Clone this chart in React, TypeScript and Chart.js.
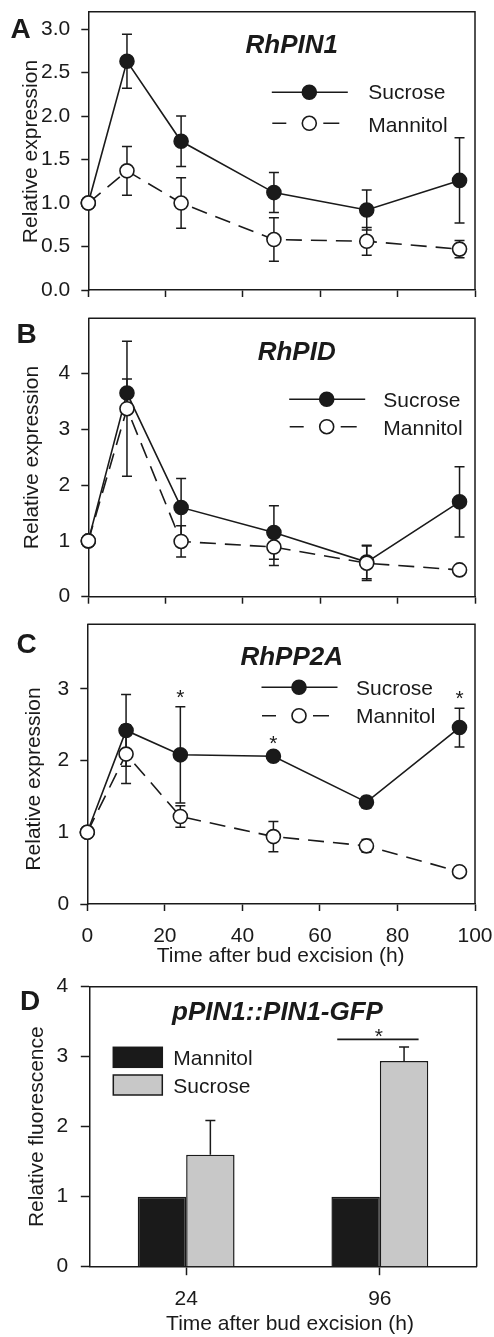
import React, { useEffect, useRef } from 'react';
import { Chart, registerables } from 'chart.js';

Chart.register(...registerables);

const FONT = '"Liberation Sans", Arial, Helvetica, sans-serif';
const INK = '#1a1a1a';
const BAR_GRAY = '#c8c8c8';
const PAGE_W = 494;

// ---------- data ----------
const hours = [0, 10, 24, 48, 72, 96];

const pin1Sucrose = [1.0, 2.63, 1.71, 1.12, 0.92, 1.26];
const pin1SucroseErr = [0, 0.31, 0.29, 0.23, 0.23, 0.49];
const pin1Mannitol = [1.0, 1.37, 1.0, 0.58, 0.56, 0.47];
const pin1MannitolErr = [0, 0.28, 0.29, 0.25, 0.16, 0.1];

const pidSucrose = [1.0, 3.65, 1.6, 1.15, 0.62, 1.7];
const pidSucroseErr = [0, 0.25, 0.52, 0.48, 0.3, 0.63];
const pidMannitol = [1.0, 3.37, 0.99, 0.89, 0.6, 0.48];
const pidMannitolErr = [0, 1.21, 0.28, 0.33, 0.31, 0.05];

const pp2aSucrose = [1.0, 2.42, 2.08, 2.06, 1.42, 2.46];
const pp2aSucroseErr = [0, 0.5, 0.67, 0.05, 0.08, 0.27];
const pp2aMannitol = [1.0, 2.09, 1.22, 0.94, 0.81, 0.45];
const pp2aMannitolErr = [0, 0.41, 0.15, 0.21, 0.09, 0.03];
const pp2aSignificant = [false, false, true, true, false, true];

const gfpCategories = ['24', '96'];
const gfpMannitol = [1, 1];
const gfpMannitolErr = [0, 0];
const gfpSucrose = [1.6, 2.94];
const gfpSucroseErr = [0.49, 0.2];
const gfpSignificant = [false, true];

const seriesNames = ['Sucrose', 'Mannitol'];
const xAxisTitle = 'Time after bud excision (h)';

// ---------- layout (page coordinates) ----------
interface Panel {
  top: number;
  height: number;
  area: { left: number; right: number; top: number; bottom: number };
  letter: string;
  letterX: number;
  letterBase: number;
  title: string;
  titleX: number;
  titleBase: number;
  yTitle: string;
  yTitleX: number;
  yTitleY: number;
  xTitleX?: number;
  xTitleBase?: number;
  legend?: { xc: number; ySuc: number; yMan: number; tx: number; bSuc: number; bMan: number };
}

const panelA: Panel = {
  top: 0, height: 310,
  area: { left: 88.3, right: 475, top: 11.7, bottom: 290 },
  letter: 'A', letterX: 10.5, letterBase: 38,
  title: 'RhPIN1', titleX: 291.7, titleBase: 53,
  yTitle: 'Relative expression', yTitleX: 37, yTitleY: 151.5,
  legend: { xc: 309.3, ySuc: 92.3, yMan: 123.3, tx: 368.3, bSuc: 99.3, bMan: 131.5 },
};
const panelB: Panel = {
  top: 300, height: 310,
  area: { left: 88.3, right: 475, top: 318.3, bottom: 596.7 },
  letter: 'B', letterX: 16.5, letterBase: 343,
  title: 'RhPID', titleX: 296.7, titleBase: 359.5,
  yTitle: 'Relative expression', yTitleX: 38, yTitleY: 457.5,
  legend: { xc: 326.7, ySuc: 399.3, yMan: 426.7, tx: 383.3, bSuc: 406.7, bMan: 434.8 },
};
const panelC: Panel = {
  top: 600, height: 370,
  area: { left: 87.3, right: 475, top: 624.3, bottom: 904 },
  letter: 'C', letterX: 16.5, letterBase: 653,
  title: 'RhPP2A', titleX: 291.7, titleBase: 664.5,
  yTitle: 'Relative expression', yTitleX: 39.5, yTitleY: 779,
  xTitleX: 280.7, xTitleBase: 962,
  legend: { xc: 299, ySuc: 687.3, yMan: 715.7, tx: 356, bSuc: 695, bMan: 723.3 },
};
const panelD: Panel = {
  top: 970, height: 367,
  area: { left: 89.3, right: 476.7, top: 986.7, bottom: 1266.7 },
  letter: 'D', letterX: 20, letterBase: 1009.5,
  title: 'pPIN1::PIN1-GFP', titleX: 277.5, titleBase: 1020,
  yTitle: 'Relative fluorescence', yTitleX: 42.5, yTitleY: 1126.7,
  xTitleX: 290, xTitleBase: 1329.5,
};

// ---------- drawing helpers ----------
function drawErrors(chart: any, upOnly: boolean) {
  const ctx = chart.ctx;
  const ys = chart.scales.y;
  ctx.save();
  ctx.strokeStyle = INK;
  ctx.lineWidth = 1.5;
  chart.data.datasets.forEach((ds: any, i: number) => {
    const errs: number[] | undefined = ds.errors;
    if (!errs) return;
    const meta = chart.getDatasetMeta(i);
    meta.data.forEach((el: any, j: number) => {
      const e = errs[j];
      if (!e) return;
      const v = meta.controller.getParsed(j).y;
      const x = el.x;
      const yTop = ys.getPixelForValue(v + e);
      const yBot = upOnly ? ys.getPixelForValue(v) : ys.getPixelForValue(v - e);
      const cap = 5;
      ctx.beginPath();
      ctx.moveTo(x, yBot);
      ctx.lineTo(x, yTop);
      ctx.moveTo(x - cap, yTop);
      ctx.lineTo(x + cap, yTop);
      if (!upOnly) {
        ctx.moveTo(x - cap, yBot);
        ctx.lineTo(x + cap, yBot);
      }
      ctx.stroke();
    });
  });
  ctx.restore();
}

function makeDecor(p: Panel, kind: 'line' | 'bar', extra?: (chart: any, off: number) => void) {
  return {
    id: 'decor' + p.letter,
    beforeDatasetsDraw(chart: any) {
      if (kind === 'line') drawErrors(chart, false);
    },
    afterDatasetsDraw(chart: any) {
      if (kind === 'bar') drawErrors(chart, true);
    },
    afterDraw(chart: any) {
      const ctx = chart.ctx;
      const a = chart.chartArea;
      const off = p.top;
      ctx.save();
      // frame top + right
      ctx.strokeStyle = INK;
      ctx.lineWidth = 1.5;
      ctx.beginPath();
      ctx.moveTo(a.left, a.top);
      ctx.lineTo(a.right, a.top);
      ctx.lineTo(a.right, a.bottom);
      ctx.stroke();

      ctx.fillStyle = INK;
      ctx.textBaseline = 'alphabetic';
      // panel letter
      ctx.font = `bold 28px ${FONT}`;
      ctx.textAlign = 'left';
      ctx.fillText(p.letter, p.letterX, p.letterBase - off);
      // title
      ctx.font = `italic bold 26px ${FONT}`;
      ctx.textAlign = 'center';
      ctx.fillText(p.title, p.titleX, p.titleBase - off);
      // y title
      ctx.font = `21px ${FONT}`;
      ctx.save();
      ctx.translate(p.yTitleX, p.yTitleY - off);
      ctx.rotate(-Math.PI / 2);
      ctx.textAlign = 'center';
      ctx.fillText(p.yTitle, 0, 0);
      ctx.restore();
      // x title
      if (p.xTitleX !== undefined && p.xTitleBase !== undefined) {
        ctx.textAlign = 'center';
        ctx.fillText(xAxisTitle, p.xTitleX, p.xTitleBase - off);
      }
      // line legend
      if (p.legend) {
        const L = p.legend;
        ctx.lineWidth = 1.6;
        ctx.strokeStyle = INK;
        ctx.beginPath();
        ctx.moveTo(L.xc - 37.5, L.ySuc - off);
        ctx.lineTo(L.xc + 38.5, L.ySuc - off);
        ctx.moveTo(L.xc - 37, L.yMan - off);
        ctx.lineTo(L.xc - 23, L.yMan - off);
        ctx.moveTo(L.xc + 14, L.yMan - off);
        ctx.lineTo(L.xc + 30, L.yMan - off);
        ctx.stroke();
        ctx.beginPath();
        ctx.arc(L.xc, L.ySuc - off, 7, 0, Math.PI * 2);
        ctx.fillStyle = INK;
        ctx.fill();
        ctx.stroke();
        ctx.beginPath();
        ctx.arc(L.xc, L.yMan - off, 7, 0, Math.PI * 2);
        ctx.fillStyle = '#ffffff';
        ctx.fill();
        ctx.stroke();
        ctx.fillStyle = INK;
        ctx.font = `21px ${FONT}`;
        ctx.textAlign = 'left';
        ctx.fillText(seriesNames[0], L.tx, L.bSuc - off);
        ctx.fillText(seriesNames[1], L.tx, L.bMan - off);
      }
      if (extra) extra(chart, off);
      ctx.restore();
    },
  };
}

function axisCommon(tickLength: number) {
  return {
    grid: {
      drawOnChartArea: false,
      drawTicks: true,
      tickLength,
      tickWidth: 1.5,
      tickColor: INK,
    },
    border: { display: true, color: INK, width: 1.5 },
  };
}

function lineConfig(
  p: Panel,
  suc: number[],
  sucErr: number[],
  man: number[],
  manErr: number[],
  yMax: number,
  yStep: number,
  decimals: number,
  showXLabels: boolean,
  extra?: (chart: any, off: number) => void
): any {
  const yW = p.area.left;
  const xH = p.top + p.height - p.area.bottom;
  return {
    type: 'line',
    data: {
      datasets: [
        {
          label: seriesNames[0],
          data: hours.map((h, i) => ({ x: h, y: suc[i] })),
          errors: sucErr,
          borderColor: INK,
          borderWidth: 1.6,
          pointRadius: 7,
          pointHoverRadius: 7,
          pointBackgroundColor: INK,
          pointBorderColor: INK,
          pointBorderWidth: 1.6,
          tension: 0,
          fill: false,
          clip: false,
          order: 2,
        },
        {
          label: seriesNames[1],
          data: hours.map((h, i) => ({ x: h, y: man[i] })),
          errors: manErr,
          borderColor: INK,
          borderWidth: 1.6,
          borderDash: [16, 9],
          pointRadius: 7,
          pointHoverRadius: 7,
          pointBackgroundColor: '#ffffff',
          pointBorderColor: INK,
          pointBorderWidth: 1.6,
          tension: 0,
          fill: false,
          clip: false,
          order: 1,
        },
      ],
    },
    options: {
      responsive: false,
      animation: false,
      events: [],
      layout: {
        padding: { left: 0, right: PAGE_W - p.area.right, top: p.area.top - p.top, bottom: 0 },
      },
      plugins: { legend: { display: false }, tooltip: { enabled: false } },
      scales: {
        x: {
          type: 'linear',
          min: 0,
          max: 100,
          ...axisCommon(7),
          ticks: {
            display: showXLabels,
            stepSize: 20,
            autoSkip: false,
            maxRotation: 0,
            padding: 12.2,
            color: INK,
            font: { size: 21, family: FONT },
          },
          afterFit: (s: any) => {
            s.height = xH;
            s.paddingLeft = 0;
            s.paddingRight = 0;
          },
        },
        y: {
          type: 'linear',
          min: 0,
          max: yMax,
          ...axisCommon(7),
          ticks: {
            stepSize: yStep,
            includeBounds: false,
            padding: 11,
            color: INK,
            font: { size: 21, family: FONT },
            callback: (v: any) => Number(v).toFixed(decimals),
          },
          afterFit: (s: any) => {
            s.width = yW;
            s.paddingTop = 0;
            s.paddingBottom = 0;
          },
        },
      },
    },
    plugins: [makeDecor(p, 'line', extra)],
  };
}

function pp2aStars(chart: any, off: number) {
  const ctx = chart.ctx;
  const ys = chart.scales.y;
  const meta = chart.getDatasetMeta(0);
  ctx.fillStyle = INK;
  ctx.font = `21px ${FONT}`;
  ctx.textAlign = 'center';
  ctx.textBaseline = 'alphabetic';
  pp2aSignificant.forEach((sig, j) => {
    if (!sig) return;
    const x = meta.data[j].x;
    const yc = ys.getPixelForValue(pp2aSucrose[j] + pp2aSucroseErr[j]) - 15;
    ctx.fillText('*', x, yc + 12);
  });
}

function gfpExtras(chart: any, off: number) {
  const ctx = chart.ctx;
  const ys = chart.scales.y;
  const xs = chart.scales.x;
  const meta = chart.getDatasetMeta(1);
  gfpSignificant.forEach((sig, j) => {
    if (!sig) return;
    const xc = xs.getPixelForValue(j);
    const w = meta.data[j].width;
    const yTop = ys.getPixelForValue(gfpSucrose[j] + gfpSucroseErr[j]);
    const yl = yTop - 7.5;
    ctx.strokeStyle = INK;
    ctx.lineWidth = 1.6;
    ctx.beginPath();
    ctx.moveTo(xc - 0.88 * w, yl);
    ctx.lineTo(xc + 0.8 * w, yl);
    ctx.stroke();
    ctx.fillStyle = INK;
    ctx.font = `21px ${FONT}`;
    ctx.textAlign = 'center';
    ctx.textBaseline = 'alphabetic';
    ctx.fillText('*', xc - 1, yl - 8.5 + 12);
  });
  // legend boxes
  const boxes = [
    { name: 'Mannitol', fill: INK, y: 1047.3, base: 1065 },
    { name: 'Sucrose', fill: BAR_GRAY, y: 1075, base: 1092.7 },
  ];
  boxes.forEach((b) => {
    ctx.fillStyle = b.fill;
    ctx.fillRect(113.3, b.y - off, 49, 20);
    ctx.strokeStyle = INK;
    ctx.lineWidth = 1.5;
    ctx.strokeRect(113.3, b.y - off, 49, 20);
    ctx.fillStyle = INK;
    ctx.font = `21px ${FONT}`;
    ctx.textAlign = 'left';
    ctx.textBaseline = 'alphabetic';
    ctx.fillText(b.name, 173.3, b.base - off);
  });
}

function barConfig(p: Panel): any {
  const yW = p.area.left;
  const xH = p.top + p.height - p.area.bottom;
  return {
    type: 'bar',
    data: {
      labels: gfpCategories,
      datasets: [
        {
          label: 'Mannitol',
          data: gfpMannitol,
          errors: gfpMannitolErr,
          backgroundColor: INK,
          borderColor: INK,
          borderWidth: 1.5,
          categoryPercentage: 0.5,
          barPercentage: 1,
        },
        {
          label: 'Sucrose',
          data: gfpSucrose,
          errors: gfpSucroseErr,
          backgroundColor: BAR_GRAY,
          borderColor: INK,
          borderWidth: 1.5,
          categoryPercentage: 0.5,
          barPercentage: 1,
        },
      ],
    },
    options: {
      responsive: false,
      animation: false,
      events: [],
      layout: {
        padding: { left: 0, right: PAGE_W - p.area.right, top: p.area.top - p.top, bottom: 0 },
      },
      plugins: { legend: { display: false }, tooltip: { enabled: false } },
      scales: {
        x: {
          type: 'category',
          offset: true,
          ...axisCommon(8.5),
          grid: {
            offset: false,
            drawOnChartArea: false,
            drawTicks: true,
            tickLength: 8.5,
            tickWidth: 1.5,
            tickColor: INK,
          },
          ticks: {
            padding: 11.5,
            maxRotation: 0,
            color: INK,
            font: { size: 21, family: FONT },
          },
          afterFit: (s: any) => {
            s.height = xH;
            s.paddingLeft = 0;
            s.paddingRight = 0;
          },
        },
        y: {
          type: 'linear',
          min: 0,
          max: 4,
          ...axisCommon(8.5),
          ticks: {
            stepSize: 1,
            padding: 12.5,
            color: INK,
            font: { size: 21, family: FONT },
          },
          afterFit: (s: any) => {
            s.width = yW;
            s.paddingTop = 0;
            s.paddingBottom = 0;
          },
        },
      },
    },
    plugins: [makeDecor(p, 'bar', gfpExtras)],
  };
}

function ChartCanvas({ panel, make }: { panel: Panel; make: () => any }) {
  const ref = useRef<HTMLCanvasElement>(null);
  useEffect(() => {
    const chart = new Chart(ref.current as HTMLCanvasElement, make());
    return () => chart.destroy();
  }, []);
  return (
    <canvas
      ref={ref}
      width={PAGE_W}
      height={panel.height}
      style={{ position: 'absolute', left: 0, top: panel.top, width: PAGE_W, height: panel.height }}
    />
  );
}

export default function App() {
  Chart.defaults.font.family = FONT;
  Chart.defaults.color = INK;
  return (
    <div style={{ position: 'absolute', left: 0, top: 0, width: PAGE_W, height: 1337, background: '#fff' }}>
      <ChartCanvas
        panel={panelA}
        make={() => lineConfig(panelA, pin1Sucrose, pin1SucroseErr, pin1Mannitol, pin1MannitolErr, 3.2, 0.5, 1, false)}
      />
      <ChartCanvas
        panel={panelB}
        make={() => lineConfig(panelB, pidSucrose, pidSucroseErr, pidMannitol, pidMannitolErr, 4.99, 1, 0, false)}
      />
      <ChartCanvas
        panel={panelC}
        make={() =>
          lineConfig(panelC, pp2aSucrose, pp2aSucroseErr, pp2aMannitol, pp2aMannitolErr, 3.9, 1, 0, true, pp2aStars)
        }
      />
      <ChartCanvas panel={panelD} make={() => barConfig(panelD)} />
    </div>
  );
}
